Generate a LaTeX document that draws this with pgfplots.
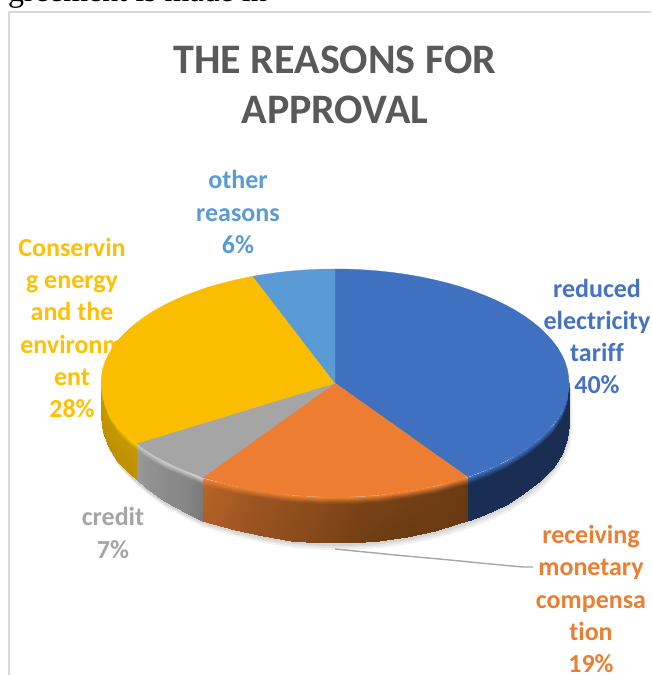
\documentclass[border=0pt]{standalone}
\usepackage{pgfplots}
\usepackage{pgfplotstable}
\usepackage{fontspec}
\pgfplotsset{compat=1.18}
\setmainfont{Carlito}[Ligatures=NoCommon]
\newfontfamily\bodyserif{Liberation Serif}
\definecolor{cTariff}{HTML}{4070C0}
\definecolor{cMoney}{HTML}{ED7D31}
\definecolor{cCredit}{HTML}{A5A5A5}
\definecolor{cEnergy}{HTML}{FBBD00}
\definecolor{cOther}{HTML}{5B9BD5}
\definecolor{lEnergy}{HTML}{FFC000}
\definecolor{lTariff}{HTML}{4472C4}
\pgfplotsset{
  colormap={wallblue}{rgb255=(26,46,84) rgb255=(64,112,192)},
  colormap={wallorange}{rgb255=(101,56,16) rgb255=(160,87,34) rgb255=(240,131,50)},
  colormap={wallgrey}{rgb255=(108,108,108) rgb255=(140,140,140) rgb255=(212,212,212)},
  colormap={wallyellow}{rgb255=(191,144,0) rgb255=(255,213,0)},
}
% Lower rim of the pie, used for the soft ground shadow
\pgfplotstableread{
x y
234 -42
232.2 -56.3
226.7 -70.9
217.6 -85
205.1 -97.9
189.3 -110.5
170.6 -121.5
149.2 -131.8
132.6 -138
125.4 -140.5
99.6 -148.1
72.3 -153.9
43.9 -158
14.7 -159.8
-14.7 -159.8
-43.9 -157.8
-72.3 -153.4
-99.6 -147.1
-132.7 -137.8
-149.2 -129.8
-170.6 -118.5
-189.3 -105
-198.4 -97.5
-205.1 -91.4
-217.6 -78
-226.7 -63.4
-232.2 -48.8
-234 -34
-234 0
234 0
}\shadowrim
\begin{document}
\begin{tikzpicture}
\path[clip, use as bounding box] (0,0) rectangle (651pt,675pt);
\begin{axis}[
  at={(0,0)}, anchor=south west,
  x=1pt, y=1pt,
  xmin=-335, xmax=316, ymin=-292, ymax=383,
  hide axis, clip=false,
  point meta min=0, point meta max=1,
]
% Frame of the chart area
\addplot[draw=black!15, line width=1.2pt] coordinates {(-326,-292) (-326,371) (316,371)};

% Data label that the pie partly overlaps
\node[align=center, font=\bfseries\fontsize{26}{32.2}\selectfont, text=lEnergy] at (axis cs:-263,55)
  {Conservin\\g energy\\and the\\environm\\ent\\28\%};

% Ground shadow
\addplot[fill=black, draw=none, opacity=0.05, xshift=3pt, yshift=-7pt] table {\shadowrim} -- cycle;
\addplot[fill=black, draw=none, opacity=0.06, xshift=2pt, yshift=-5pt] table {\shadowrim} -- cycle;
\addplot[fill=black, draw=none, opacity=0.07, xshift=1pt, yshift=-3pt] table {\shadowrim} -- cycle;

% Side walls of the slices: top edge, bevel, lower edge
\addplot[surf, shader=interp, colormap name=wallblue, point meta=explicit] table[meta=c] {
x y c
234 0 1
232.2 -14.3 1
226.7 -28.4 1
217.6 -42 1
205.1 -54.9 1
189.3 -67 1
170.6 -78 1
149.2 -87.8 1
132.6 -94 1

234 -7 0
232.2 -21.3 0
226.7 -35.4 0
217.6 -49 0
205.1 -61.9 0
189.3 -74 0
170.6 -85 0
149.2 -94.8 0
132.6 -101 0

234 -42 0
232.2 -56.3 0
226.7 -70.9 0
217.6 -85 0
205.1 -97.9 0
189.3 -110.5 0
170.6 -121.5 0
149.2 -131.8 0
132.6 -138 0
};
\addplot[surf, shader=interp, colormap name=wallorange, point meta=explicit] table[meta=c] {
x y c
132.6 -94 1
125.4 -96.3 1
99.6 -103.1 1
72.3 -108.4 1
43.9 -112 1
14.7 -113.8 1
-14.7 -113.8 1
-43.9 -112 1
-72.3 -108.4 1
-99.6 -103.1 1
-132.7 -94.8 1

132.6 -101 0.05
125.4 -103.3 0.06
99.6 -110.1 0.1
72.3 -115.4 0.12
43.9 -119 0.15
14.7 -120.8 0.2
-14.7 -120.8 0.3
-43.9 -119 0.38
-72.3 -115.4 0.45
-99.6 -110.1 0.55
-132.7 -101.8 0.65

132.6 -138 0.02
125.4 -140.5 0.03
99.6 -148.1 0.05
72.3 -153.9 0.05
43.9 -158 0.08
14.7 -159.8 0.15
-14.7 -159.8 0.25
-43.9 -157.8 0.32
-72.3 -153.4 0.4
-99.6 -147.1 0.5
-132.7 -137.8 0.6
};
\addplot[surf, shader=interp, colormap name=wallgrey, point meta=explicit] table[meta=c] {
x y c
-132.7 -94.8 1
-149.2 -87.8 1
-170.6 -78 1
-189.3 -67 1
-198.4 -60.5 1

-132.7 -101.8 0.25
-149.2 -94.8 0.4
-170.6 -85 0.5
-189.3 -74 0.55
-198.4 -67.5 0.6

-132.7 -137.8 0.2
-149.2 -129.8 0.4
-170.6 -118.5 0.5
-189.3 -105 0.55
-198.4 -97.5 0.6
};
\addplot[surf, shader=interp, colormap name=wallyellow, point meta=explicit] table[meta=c] {
x y c
-198.4 -60.5 1
-205.1 -54.9 1
-217.6 -42 1
-226.7 -28.4 1
-232.2 -14.3 1
-234 0 1

-198.4 -67.5 0.1
-205.1 -61.9 0.1
-217.6 -49 0.1
-226.7 -35.4 0.1
-232.2 -21.3 0.1
-234 -7 0.1

-198.4 -97.5 0
-205.1 -91.4 0
-217.6 -78 0
-226.7 -63.4 0
-232.2 -48.8 0
-234 -34 0
};

% Upper face of the pie: tariff 40, compensation 19, credit 7, energy 28, other 6
\addplot[fill=cTariff, draw=cTariff, line width=0.3pt] coordinates {
(0,0) (0,114) (14.7,113.8) (29.3,113.1) (43.9,112) (58.2,110.4) (72.3,108.4) (86.1,106)
(99.6,103.1) (112.7,99.9) (125.4,96.3) (137.5,92.2) (149.2,87.8) (160.2,83.1) (170.6,78)
(180.3,72.7) (189.3,67) (197.6,61.1) (205.1,54.9) (211.7,48.5) (217.6,42) (222.6,35.2)
(226.7,28.4) (229.9,21.4) (232.2,14.3) (233.5,7.2) (234,0) (233.5,-7.2) (232.2,-14.3)
(229.9,-21.4) (226.7,-28.4) (222.6,-35.2) (217.6,-42) (211.7,-48.5) (205.1,-54.9)
(197.6,-61.1) (189.3,-67) (180.3,-72.7) (170.6,-78) (160.2,-83.1) (149.2,-87.8) (137.5,-92.2) (132.6,-94)
} -- cycle;
\addplot[fill=cMoney, draw=cMoney, line width=0.3pt] coordinates {
(0,0) (132.6,-94) (125.4,-96.3) (112.7,-99.9) (99.6,-103.1) (86.1,-106) (72.3,-108.4)
(58.2,-110.4) (43.9,-112) (29.3,-113.1) (14.7,-113.8) (0,-114) (-14.7,-113.8) (-29.3,-113.1)
(-43.9,-112) (-58.2,-110.4) (-72.3,-108.4) (-86.1,-106) (-99.6,-103.1) (-112.7,-99.9) (-125.4,-96.3) (-132.7,-94.8)
} -- cycle;
\addplot[fill=cCredit, draw=cCredit, line width=0.3pt] coordinates {
(0,0) (-132.7,-94.8) (-137.5,-92.2) (-149.2,-87.8) (-160.2,-83.1) (-170.6,-78) (-180.3,-72.7)
(-189.3,-67) (-197.6,-61.1) (-198.4,-60.5)
} -- cycle;
\addplot[fill=cEnergy, draw=cEnergy, line width=0.3pt] coordinates {
(0,0) (-198.4,-60.5) (-205.1,-54.9) (-211.7,-48.5) (-217.6,-42) (-222.6,-35.2) (-226.7,-28.4)
(-229.9,-21.4) (-232.2,-14.3) (-233.5,-7.2) (-234,0) (-233.5,7.2) (-232.2,14.3) (-229.9,21.4)
(-226.7,28.4) (-222.6,35.2) (-217.6,42) (-211.7,48.5) (-205.1,54.9) (-197.6,61.1) (-189.3,67)
(-180.3,72.7) (-170.6,78) (-160.2,83.1) (-149.2,87.8) (-137.5,92.2) (-125.4,96.3) (-112.7,99.9)
(-99.6,103.1) (-86.1,106) (-82,106.8)
} -- cycle;
\addplot[fill=cOther, draw=cOther, line width=0.3pt] coordinates {
(0,0) (-82,106.8) (-72.3,108.4) (-58.2,110.4) (-43.9,112) (-29.3,113.1) (-14.7,113.8) (0,114)
} -- cycle;

% Leader line of the compensation label
\addplot[draw=black!35, line width=1.4pt] coordinates {(0,-166) (60,-172) (115,-177) (145,-180) (188,-184) (198,-184)};

% Title and remaining labels
\node[align=center, font=\bfseries\fontsize{42}{50}\selectfont, text=black!65] at (axis cs:0,298)
  {THE REASONS FOR\\APPROVAL};
\node[align=center, font=\bfseries\fontsize{26}{32.2}\selectfont, text=cOther] at (axis cs:-97,171)
  {other\\reasons\\6\%};
\node[align=center, font=\bfseries\fontsize{26}{32.2}\selectfont, text=lTariff] at (axis cs:262,46.5)
  {reduced\\electricity\\tariff\\40\%};
\node[align=center, font=\bfseries\fontsize{26}{32.2}\selectfont, text=cCredit] at (axis cs:-222,-150)
  {credit\\7\%};
\node[align=center, font=\bfseries\fontsize{26}{32.2}\selectfont, text=cMoney] at (axis cs:256,-216)
  {receiving\\monetary\\compensa\\tion\\19\%};
% Line of body text above the chart
\node[anchor=base east, inner sep=0pt, font=\bodyserif\fontsize{32}{34}\selectfont, text=black] at (axis cs:-68,381)
  {greement is made in};
\end{axis}
\end{tikzpicture}
\end{document}
